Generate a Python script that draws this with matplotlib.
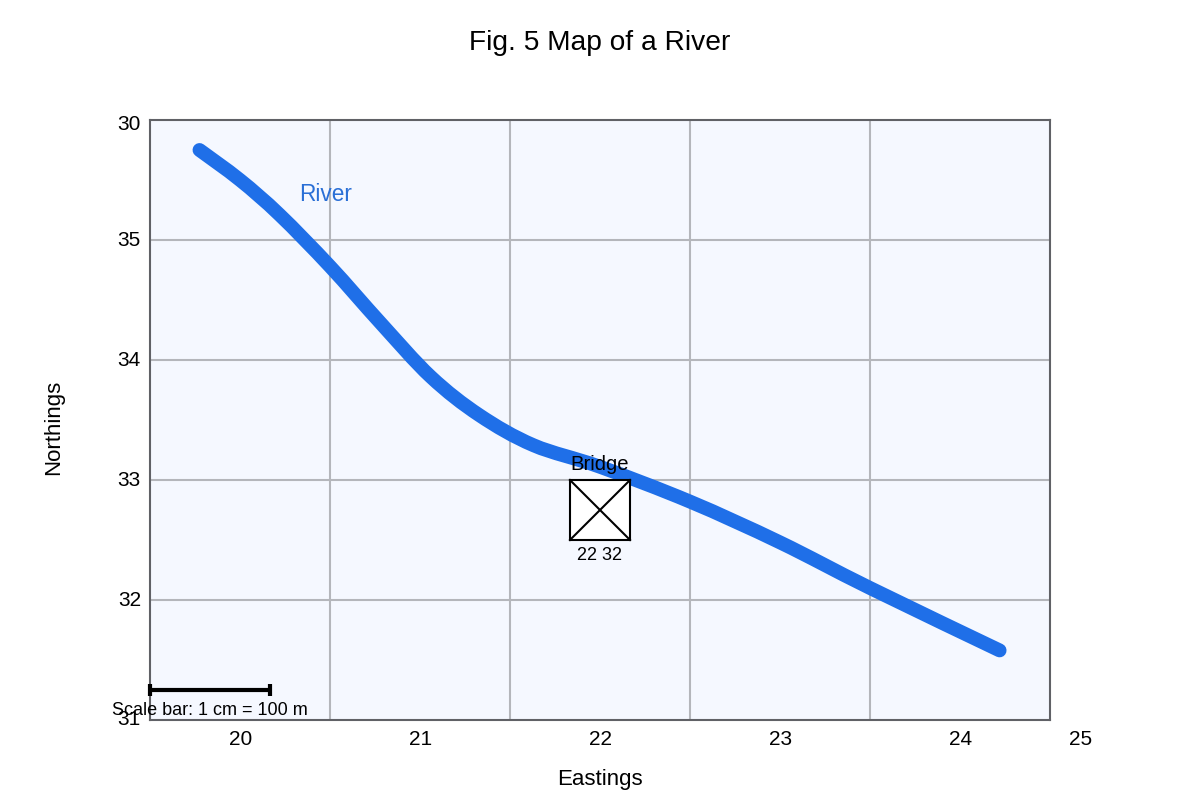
#river map
import matplotlib
matplotlib.use('Agg')
import matplotlib.pyplot as plt
from matplotlib.patches import PathPatch, Rectangle
from matplotlib.path import Path

# river centre line
river_x = [19.775, 20.0, 20.22, 20.5, 20.78, 21.06, 21.33, 21.63, 22.0,
           22.5, 23.0, 23.5, 24.22]
river_y = [35.75, 35.5, 35.21, 34.78, 34.31, 33.86, 33.54, 33.29, 33.11,
           32.82, 32.48, 32.1, 31.58]

# the labels do not sit at even spacing in the reference (25 and 30 are off)
x_tick_pos = [20.003, 21.003, 22.003, 23.003, 24.003, 24.67]
x_tick_labels = ['20', '21', '22', '23', '24', '25']
y_tick_pos = [35.96, 35, 34, 33, 32, 31.005]
y_tick_labels = ['30', '35', '34', '33', '32', '31']
x_grid = [20.5, 21.5, 22.5, 23.5]
y_grid = [32, 33, 34, 35]

def river_path():
    # catmull-rom tangents turned into cubic bezier controls
    n = len(river_x)
    verts = [(river_x[0], river_y[0])]
    codes = [Path.MOVETO]
    for i in range(n - 1):
        p0 = max(i - 1, 0)
        p3 = min(i + 2, n - 1)
        verts.append((river_x[i] + (river_x[i + 1] - river_x[p0]) / 6,
                      river_y[i] + (river_y[i + 1] - river_y[p0]) / 6))
        verts.append((river_x[i + 1] - (river_x[p3] - river_x[i]) / 6,
                      river_y[i + 1] - (river_y[p3] - river_y[i]) / 6))
        verts.append((river_x[i + 1], river_y[i + 1]))
        codes += [Path.CURVE4, Path.CURVE4, Path.CURVE4]
    return Path(verts, codes)

def main():
    plt.rcParams['font.family'] = ['Liberation Sans', 'DejaVu Sans']
    fig = plt.figure(figsize=(12, 8), dpi=100)
    ax = fig.add_axes([150 / 1200, 1 - 720 / 800, 900 / 1200, 600 / 800])
    ax.set_xlim(19.5, 24.5)
    ax.set_ylim(31, 36)
    ax.set_facecolor('#f5f8ff')

    ax.set_xticks(x_grid)
    ax.set_yticks(y_grid)
    ax.tick_params(length=0, labelbottom=False, labelleft=False)
    ax.grid(color='#b4b6bb', linewidth=1.5)
    ax.set_axisbelow(True)
    for s in ax.spines.values():
        s.set_color('#606166')
        s.set_linewidth(1.5)

    ax.add_patch(PathPatch(river_path(), facecolor='none', edgecolor='#1f6fe8',
                           linewidth=10, capstyle='round', joinstyle='round', zorder=3))
    ax.text(20.33, 35.378, 'River', color='#2a6fd6', fontsize=16.3, va='center', ha='left')

    # bridge square
    ax.add_patch(Rectangle((21.833, 32.5), 0.334, 0.5, facecolor='white',
                           edgecolor='black', linewidth=1.5, zorder=4))
    ax.plot([21.833, 22.167], [33, 32.5], color='black', linewidth=1.5, zorder=5)
    ax.plot([21.833, 22.167], [32.5, 33], color='black', linewidth=1.5, zorder=5)
    ax.text(22, 33.125, 'Bridge', color='black', fontsize=14.6, ha='center', va='center', zorder=6)
    ax.text(22, 32.37, '22 32', color='black', fontsize=13, ha='center', va='center', zorder=6)

    # scale bar
    ax.plot([19.5, 20.167], [31.25, 31.25], color='black', linewidth=3,
            solid_capstyle='butt', clip_on=False, zorder=6)
    for x in [19.5, 20.167]:
        ax.plot([x, x], [31.2, 31.3], color='black', linewidth=3,
                solid_capstyle='butt', clip_on=False, zorder=6)
    ax.text(19.83, 31.08, 'Scale bar: 1 cm = 100 m', color='black', fontsize=13,
            ha='center', va='center', clip_on=False, zorder=6)

    for x, lab in zip(x_tick_pos, x_tick_labels):
        ax.text(x, 30.84, lab, fontsize=15, ha='center', va='center', clip_on=False)
    for y, lab in zip(y_tick_pos, y_tick_labels):
        ax.text(19.45, y, lab, fontsize=15, ha='right', va='center', clip_on=False)

    fig.text(600 / 1200, 1 - 43 / 800, 'Fig. 5 Map of a River', fontsize=20.25, ha='center', va='center')
    fig.text(600 / 1200, 1 - 779 / 800, 'Eastings', fontsize=16, ha='center', va='center')
    fig.text(54 / 1200, 1 - 427 / 800, 'Northings', fontsize=16, ha='center', va='center', rotation=90)

    plt.savefig('out.png', dpi=100)

if __name__ == "__main__":
    main()
